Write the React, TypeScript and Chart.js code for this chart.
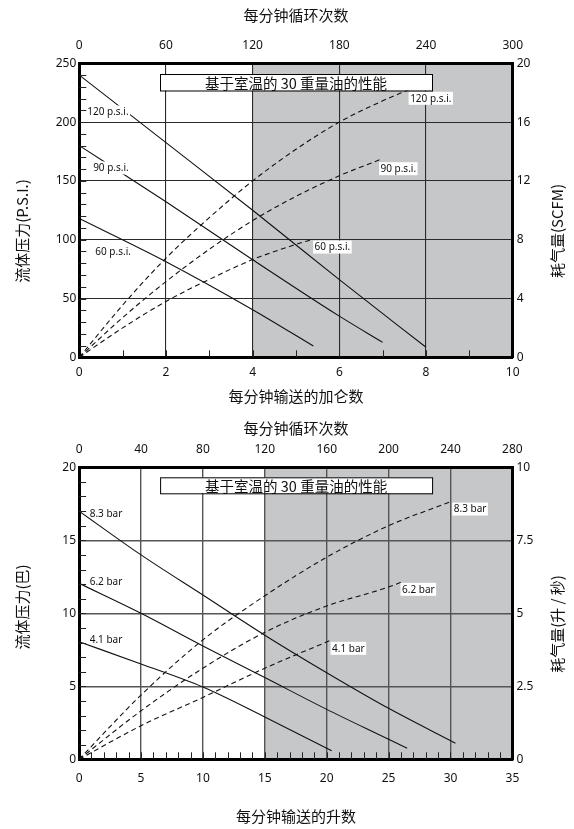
import React, { useEffect, useRef } from "react";
import { Chart, registerables } from "chart.js";

Chart.register(...registerables);

const LATIN = '"Noto Sans", "Noto Sans CJK SC", sans-serif';
const CJK = '"Noto Sans CJK SC", "Noto Sans", sans-serif';
const INK = "#111111";
const SHADE = "#c6c7c9";

// ================= Top chart (US units) =================
const usBoxTitle = "基于室温的 30 重量油的性能";
const usTopTitle = "每分钟循环次数";
const usBottomTitle = "每分钟输送的加仑数";
const usLeftTitle = "流体压力(P.S.I.)";
const usRightTitle = "耗气量(SCFM)";

// fluid pressure (psi) vs gallons per minute
const us120PsiGpm = [0, 2, 4, 6, 8];
const us120PsiPressure = [240, 182.5, 125, 66, 8.5];
const us90PsiGpm = [0, 2, 4, 6, 7];
const us90PsiPressure = [180, 132.3, 83, 35, 12.7];
const us60PsiGpm = [0, 2, 4, 5.4];
const us60PsiPressure = [118, 81.3, 40.5, 9.6];

// air consumption (SCFM) vs gallons per minute
const us120AirGpm = [0, 1, 2, 3, 4, 5, 6, 7, 7.6];
const us120AirScfm = [0, 3.55, 6.75, 9.5, 12, 14.15, 16, 17.45, 18.2];
const us90AirGpm = [0, 1, 2, 3, 4, 5, 6, 6.94];
const us90AirScfm = [0, 2.7, 5.15, 7.35, 9.3, 10.95, 12.35, 13.45];
const us60AirGpm = [0, 1, 2, 3, 4, 5, 5.36];
const us60AirScfm = [0, 2.0, 3.8, 5.3, 6.65, 7.68, 8.0];

const usLabelText = ["120 p.s.i.", "90 p.s.i.", "60 p.s.i.", "120 p.s.i.", "90 p.s.i.", "60 p.s.i."];
const usLabelX = [0.66, 0.73, 0.78, 8.11, 7.36, 5.84];
const usLabelY = [208.6, 161, 89.8, 17.62, 12.83, 7.5];
const usLabelAxis = ["y", "y", "y", "y2", "y2", "y2"];
const usLabelBg = [true, true, true, true, true, true];

// ================= Bottom chart (metric) =================
const mBoxTitle = "基于室温的 30 重量油的性能";
const mTopTitle = "每分钟循环次数";
const mBottomTitle = "每分钟输送的升数";
const mLeftTitle = "流体压力(巴)";
const mRightTitle = "耗气量(升 / 秒)";

// fluid pressure (bar) vs litres per minute
const m83BarLpm = [0, 5, 10, 15, 20, 25, 30.4];
const m83BarPressure = [17, 14.0, 11.25, 8.5, 5.93, 3.49, 1.1];
const m62BarLpm = [0, 5, 10, 15, 20, 25, 26.5];
const m62BarPressure = [12.05, 10, 7.76, 5.6, 3.42, 1.37, 0.75];
const m41BarLpm = [0, 5, 10, 15, 20.4];
const m41BarPressure = [8.05, 6.53, 4.95, 2.9, 0.59];

// air consumption (litres / second) vs litres per minute
const m83AirLpm = [0, 5, 10, 15, 20, 25, 30];
const m83AirLps = [0, 2.2, 4.09, 5.6, 6.92, 8.0, 8.82];
const m62AirLpm = [0, 5, 10, 15, 20, 25, 26.2];
const m62AirLps = [0, 1.66, 3.12, 4.35, 5.25, 5.9, 6.1];
const m41AirLpm = [0, 5, 10, 15, 20.4];
const m41AirLps = [0, 1.15, 2.12, 3.12, 4.09];

const mLabelText = ["8.3 bar", "6.2 bar", "4.1 bar", "8.3 bar", "6.2 bar", "4.1 bar"];
const mLabelX = [2.17, 2.17, 2.17, 31.58, 27.4, 21.75];
const mLabelY = [16.85, 12.15, 8.2, 8.57, 5.82, 3.8];
const mLabelAxis = ["y", "y", "y", "y2", "y2", "y2"];
const mLabelBg = [false, false, false, true, true, true];

type Series = { x: number[]; y: number[] };

type Spec = {
  height: number;
  plotTop: number;
  plotBottom: number;
  plotLeft: number;
  plotRight: number;
  xMax: number;
  xStep: number;
  xMinor: number;
  x2Max: number;
  x2Step: number;
  yMax: number;
  yStep: number;
  yMinor: number;
  y2Max: number;
  y2Step: number;
  shadeFrom: number;
  gridColor: string;
  gridWidth: number;
  topPad: number;
  bottomPad: number;
  solids: Series[];
  dashes: Series[];
  labelText: string[];
  labelX: number[];
  labelY: number[];
  labelAxis: string[];
  labelBg: boolean[];
  boxText: string;
  boxLeft: number;
  boxTop: number;
  boxWidth: number;
  boxHeight: number;
  titles: { text: string; x: number; y: number; rot: boolean }[];
};

const W = 574;

function tickFont() {
  return { family: LATIN, size: 12 };
}

function makeConfig(s: Spec): any {
  const lineBase = {
    borderColor: INK,
    borderWidth: 1.1,
    pointRadius: 0,
    fill: false,
    cubicInterpolationMode: "monotone",
  };
  const datasets = [
    ...s.solids.map((d) => ({
      ...lineBase,
      data: d.x.map((v, i) => ({ x: v, y: d.y[i] })),
      xAxisID: "x",
      yAxisID: "y",
    })),
    ...s.dashes.map((d) => ({
      ...lineBase,
      borderDash: [5, 3.5],
      data: d.x.map((v, i) => ({ x: v, y: d.y[i] })),
      xAxisID: "x",
      yAxisID: "y2",
    })),
  ];

  const border = { color: "#000", width: 3 };

  const decor = {
    id: "decor",
    beforeDraw(chart: any) {
      const { ctx, chartArea: a, scales } = chart;
      const x0 = scales.x.getPixelForValue(s.shadeFrom);
      ctx.save();
      ctx.fillStyle = SHADE;
      ctx.fillRect(x0, a.top, a.right - x0, a.bottom - a.top);
      ctx.restore();
    },
    afterDatasetsDraw(chart: any) {
      const { ctx, chartArea: a, scales } = chart;
      ctx.save();
      // curve labels
      ctx.font = `10px ${LATIN}`;
      ctx.textAlign = "center";
      ctx.textBaseline = "middle";
      s.labelText.forEach((t, i) => {
        const px = scales.x.getPixelForValue(s.labelX[i]);
        const py = scales[s.labelAxis[i]].getPixelForValue(s.labelY[i]);
        const w = ctx.measureText(t).width;
        if (s.labelBg[i]) {
          ctx.fillStyle = "#fff";
          ctx.fillRect(px - w / 2 - 1.5, py - 6.5, w + 3, 13);
        }
        ctx.fillStyle = INK;
        ctx.fillText(t, px, py + 0.5);
      });
      // title box
      const bx = a.left + s.boxLeft;
      const by = a.top + s.boxTop;
      ctx.fillStyle = "#fff";
      ctx.fillRect(bx, by, s.boxWidth, s.boxHeight);
      ctx.strokeStyle = "#000";
      ctx.lineWidth = 1;
      ctx.strokeRect(bx + 0.5, by + 0.5, s.boxWidth, s.boxHeight);
      ctx.fillStyle = INK;
      ctx.font = `14.5px ${CJK}`;
      ctx.fillText(s.boxText, bx + s.boxWidth / 2, by + s.boxHeight / 2 + 1);
      ctx.restore();
    },
    afterDraw(chart: any) {
      const { ctx, chartArea: a, scales } = chart;
      ctx.save();
      // minor ticks on left and bottom axes (inside plot)
      ctx.strokeStyle = "#222";
      ctx.lineWidth = 1;
      for (let v = s.yMinor; v < s.yMax; v += s.yMinor) {
        const py = Math.round(scales.y.getPixelForValue(v)) + 0.5;
        ctx.beginPath();
        ctx.moveTo(a.left, py);
        ctx.lineTo(a.left + 7, py);
        ctx.stroke();
      }
      for (let v = s.xMinor; v < s.xMax; v += s.xMinor) {
        const px = Math.round(scales.x.getPixelForValue(v)) + 0.5;
        ctx.beginPath();
        ctx.moveTo(px, a.bottom);
        ctx.lineTo(px, a.bottom - 7);
        ctx.stroke();
      }
      // axis titles
      ctx.fillStyle = INK;
      ctx.font = `15px ${CJK}`;
      ctx.textAlign = "center";
      ctx.textBaseline = "middle";
      s.titles.forEach((t) => {
        ctx.save();
        ctx.translate(t.x, t.y);
        if (t.rot) ctx.rotate(-Math.PI / 2);
        ctx.fillText(t.text, 0, 0);
        ctx.restore();
      });
      ctx.restore();
    },
  };

  return {
    type: "line",
    data: { datasets },
    options: {
      responsive: false,
      animation: false,
      events: [],
      layout: { padding: 0 },
      plugins: { legend: { display: false }, tooltip: { enabled: false }, title: { display: false } },
      scales: {
        x: {
          type: "linear",
          position: "bottom",
          min: 0,
          max: s.xMax,
          ticks: { stepSize: s.xStep, padding: s.bottomPad, color: INK, font: tickFont(), autoSkip: false, maxRotation: 0 },
          grid: { color: s.gridColor, lineWidth: s.gridWidth, drawTicks: false },
          border,
          afterFit: (sc: any) => {
            sc.height = s.height - s.plotBottom;
          },
        },
        x2: {
          type: "linear",
          position: "top",
          min: 0,
          max: s.x2Max,
          ticks: { stepSize: s.x2Step, padding: s.topPad, color: INK, font: tickFont(), autoSkip: false, maxRotation: 0 },
          grid: { display: false, drawTicks: false },
          border,
          afterFit: (sc: any) => {
            sc.height = s.plotTop;
          },
        },
        y: {
          type: "linear",
          position: "left",
          min: 0,
          max: s.yMax,
          ticks: { stepSize: s.yStep, padding: 3, color: INK, font: tickFont() },
          grid: { color: s.gridColor, lineWidth: s.gridWidth, drawTicks: false },
          border,
          afterFit: (sc: any) => {
            sc.width = s.plotLeft;
          },
        },
        y2: {
          type: "linear",
          position: "right",
          min: 0,
          max: s.y2Max,
          ticks: { stepSize: s.y2Step, padding: 4, color: INK, font: tickFont() },
          grid: { display: false, drawTicks: false },
          border,
          afterFit: (sc: any) => {
            sc.width = W - s.plotRight;
          },
        },
      },
    },
    plugins: [decor],
  };
}

const usSpec: Spec = {
  height: 410,
  plotTop: 63.3,
  plotBottom: 357.3,
  plotLeft: 79.3,
  plotRight: 512.7,
  xMax: 10,
  xStep: 2,
  xMinor: 1,
  x2Max: 300,
  x2Step: 60,
  yMax: 250,
  yStep: 50,
  yMinor: 10,
  y2Max: 20,
  y2Step: 4,
  shadeFrom: 4,
  gridColor: "#2a2a2a",
  gridWidth: 1.1,
  topPad: 11,
  bottomPad: 8.5,
  solids: [
    { x: us120PsiGpm, y: us120PsiPressure },
    { x: us90PsiGpm, y: us90PsiPressure },
    { x: us60PsiGpm, y: us60PsiPressure },
  ],
  dashes: [
    { x: us120AirGpm, y: us120AirScfm },
    { x: us90AirGpm, y: us90AirScfm },
    { x: us60AirGpm, y: us60AirScfm },
  ],
  labelText: usLabelText,
  labelX: usLabelX,
  labelY: usLabelY,
  labelAxis: usLabelAxis,
  labelBg: usLabelBg,
  boxText: usBoxTitle,
  boxLeft: 80.7,
  boxTop: 10.7,
  boxWidth: 272,
  boxHeight: 16.5,
  titles: [
    { text: usTopTitle, x: 296, y: 15, rot: false },
    { text: usBottomTitle, x: 296, y: 396, rot: false },
    { text: usLeftTitle, x: 22, y: 231, rot: true },
    { text: usRightTitle, x: 557.5, y: 231, rot: true },
  ],
};

const mSpec: Spec = {
  height: 419,
  plotTop: 57.3,
  plotBottom: 349.3,
  plotLeft: 79.1,
  plotRight: 512.4,
  xMax: 35,
  xStep: 5,
  xMinor: 1,
  x2Max: 280,
  x2Step: 40,
  yMax: 20,
  yStep: 5,
  yMinor: 1,
  y2Max: 10,
  y2Step: 2.5,
  shadeFrom: 15,
  gridColor: "#555555",
  gridWidth: 1.4,
  topPad: 11,
  bottomPad: 12,
  solids: [
    { x: m83BarLpm, y: m83BarPressure },
    { x: m62BarLpm, y: m62BarPressure },
    { x: m41BarLpm, y: m41BarPressure },
  ],
  dashes: [
    { x: m83AirLpm, y: m83AirLps },
    { x: m62AirLpm, y: m62AirLps },
    { x: m41AirLpm, y: m41AirLps },
  ],
  labelText: mLabelText,
  labelX: mLabelX,
  labelY: mLabelY,
  labelAxis: mLabelAxis,
  labelBg: mLabelBg,
  boxText: mBoxTitle,
  boxLeft: 81,
  boxTop: 10,
  boxWidth: 272,
  boxHeight: 16,
  titles: [
    { text: mTopTitle, x: 296, y: 18, rot: false },
    { text: mBottomTitle, x: 296, y: 406, rot: false },
    { text: mLeftTitle, x: 22, y: 197, rot: true },
    { text: mRightTitle, x: 557.5, y: 214, rot: true },
  ],
};

function Panel({ spec, top }: { spec: Spec; top: number }) {
  const ref = useRef<HTMLCanvasElement | null>(null);
  useEffect(() => {
    if (!ref.current) return;
    const chart = new Chart(ref.current, makeConfig(spec));
    return () => chart.destroy();
  }, [spec]);
  return (
    <canvas
      ref={ref}
      width={W}
      height={spec.height}
      style={{ position: "absolute", left: 0, top, width: W, height: spec.height, display: "block" }}
    />
  );
}

export default function App() {
  return (
    <div style={{ position: "absolute", left: 0, top: 0, width: W, height: 829, background: "#fff" }}>
      <Panel spec={usSpec} top={0} />
      <Panel spec={mSpec} top={410} />
    </div>
  );
}
